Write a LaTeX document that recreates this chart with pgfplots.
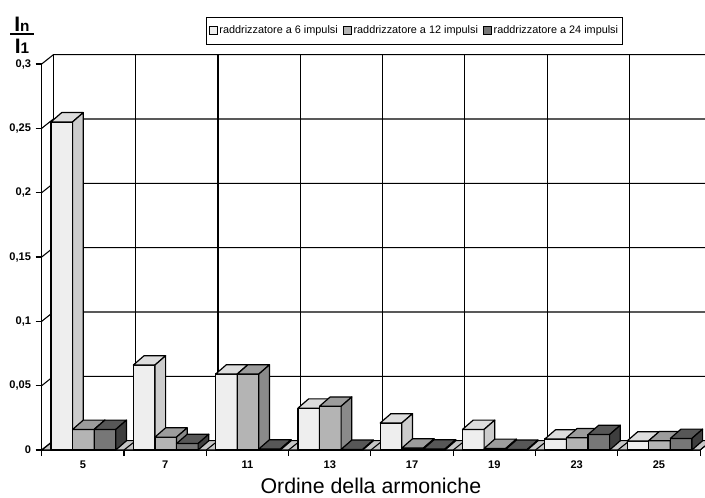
\documentclass[border=0pt]{standalone}
\usepackage{pgfplots}
\usepackage{pgfplotstable}
\pgfplotsset{compat=1.18}
\usepackage{fontspec}
\setmainfont{Liberation Sans}

% shades of the three bar series: front, top and side faces
\definecolor{wfront}{HTML}{EEEEEE}
\definecolor{wtop}{HTML}{DDDDDD}
\definecolor{wside}{HTML}{CCCCCC}
\definecolor{gfront}{HTML}{B4B4B4}
\definecolor{gtop}{HTML}{9C9C9C}
\definecolor{gside}{HTML}{8A8A8A}
\definecolor{dfront}{HTML}{777777}
\definecolor{dtop}{HTML}{575757}
\definecolor{dside}{HTML}{3E3E3E}
\definecolor{floorgray}{HTML}{C6C6C6}

% harmonic currents In/I1 for 6-, 12- and 24-pulse rectifiers
\pgfplotstableread{
ord  p6     p12    p24
5    0.255  0.016  0.016
7    0.066  0.010  0.005
11   0.059  0.059  0.0008
13   0.0325 0.034  0.0005
17   0.021  0.0015 0.0008
19   0.016  0.0012 0.0005
23   0.0085 0.0095 0.012
25   0.007  0.0072 0.009
}\harm

% bar geometry in axis units
\def\bw{0.2625}    % bar width
\def\bgap{0.113}   % space before the first bar of a group
\def\bdx{0.13}     % depth of the bars, x
\def\bdy{0.00723}  % depth of the bars, y
\def\wdx{0.142}    % depth of floor and side wall, x
\def\wdy{0.00723}  % depth of floor and side wall, y

\pgfplotsset{gridline/.style={forget plot, black, line width=0.8pt}}

% one 3-D column: front face, top face, right face
\newcommand{\drawbar}[3]{%
  \pgfmathsetmacro{\xa}{#1}%
  \pgfmathsetmacro{\xb}{#1+\bw}%
  \pgfmathsetmacro{\xc}{#1+\bdx}%
  \pgfmathsetmacro{\xd}{#1+\bw+\bdx}%
  \pgfmathsetmacro{\ya}{#2}%
  \pgfmathsetmacro{\yb}{#2+\bdy}%
  \edef\barcmd{%
    \noexpand\addplot[forget plot, draw=black, line width=0.9pt, line join=round, fill=#3front]
      coordinates {(\xa,0) (\xb,0) (\xb,\ya) (\xa,\ya)} -- cycle;
    \noexpand\addplot[forget plot, draw=black, line width=0.9pt, line join=round, fill=#3top]
      coordinates {(\xa,\ya) (\xb,\ya) (\xd,\yb) (\xc,\yb)} -- cycle;
    \noexpand\addplot[forget plot, draw=black, line width=0.9pt, line join=round, fill=#3side]
      coordinates {(\xb,0) (\xd,\bdy) (\xd,\yb) (\xb,\ya)} -- cycle;
  }%
  \barcmd
}

\begin{document}
\begin{tikzpicture}
\useasboundingbox (0,0) rectangle (528.75pt,372.75pt);
\begin{axis}[
  at={(31.275pt,35.25pt)}, anchor=south west,
  scale only axis, width=493.8pt, height=289.5pt,
  xmin=0, xmax=8, ymin=0, ymax=0.3,
  clip=false,
  axis x line=bottom, axis y line=left,
  axis line style={-, line width=0.8pt},
  tick align=outside, major tick length=4.5pt,
  tick style={black, line width=0.8pt},
  xtick={0,...,8}, x tick label as interval,
  xticklabels={5,7,11,13,17,19,23,25},
  ytick={0,0.05,0.1,0.15,0.2,0.25,0.3},
  yticklabels={0,{0,05},{0,1},{0,15},{0,2},{0,25},{0,3}},
  tick label style={font=\fontsize{8.3}{10}\selectfont\bfseries},
  xlabel={Ordine della armoniche},
  every axis x label/.style={at={(axis description cs:0.5,-0.113)}, anchor=base,
    inner sep=0pt, font=\fontsize{16}{18}\selectfont},
  ylabel={\vbox{\offinterlineskip
    \hbox to 18pt{\hss I{\fontsize{11.5}{12}\selectfont n}\hss}\kern1.6pt
    \hrule height 1.1pt\kern2.8pt
    \hbox to 18pt{\hss I{\fontsize{11.5}{12}\selectfont 1}\hss}}},
  every axis y label/.style={at={(axis description cs:-0.0299,1.0751)}, anchor=center,
    inner sep=0pt, font=\bfseries\fontsize{15.7}{16}\selectfont},
  legend columns=3,
  legend image code/.code={\draw[#1, line width=0.6pt] (0pt,-3pt) rectangle (6pt,3pt);},
  legend style={at={(axis description cs:0.2495,1.1218)}, anchor=north west,
    draw=black, line width=0.6pt, fill=white, outer sep=0pt,
    font=\fontsize{8.15}{9.6}\selectfont, inner xsep=2pt, inner ysep=4.6pt,
    nodes={inner xsep=1.5pt, inner ysep=2pt},
    /tikz/every even column/.append style={column sep=2.2pt}},
]
% floor
\addplot[forget plot, fill=floorgray, draw=black, line width=0.8pt]
  coordinates {(0,0) (8,0) (8.142,0.00723) (0.142,0.00723)} -- cycle;
% floor lines at the category boundaries and vertical lines on the back wall
\pgfplotsinvokeforeach{0,...,8}{%
  \pgfmathsetmacro{\gx}{#1+\wdx}%
  \pgfmathsetmacro{\gy}{0.3+\wdy}%
  \edef\gcmd{%
    \noexpand\addplot[gridline] coordinates {(#1,0) (\gx,\wdy)};
    \noexpand\addplot[gridline] coordinates {(\gx,\wdy) (\gx,\gy)};
  }%
  \gcmd
}
% horizontal grid lines on the side wall and the back wall
\pgfplotsinvokeforeach{0.05,0.1,0.15,0.2,0.25,0.3}{%
  \pgfmathsetmacro{\gy}{#1+\wdy}%
  \pgfmathsetmacro{\gx}{8+\wdx}%
  \edef\gcmd{%
    \noexpand\addplot[gridline] coordinates {(0,#1) (\wdx,\gy) (\gx,\gy)};
  }%
  \gcmd
}
% columns, left to right
\pgfplotsforeachungrouped \i in {0,...,7}{%
  \pgfplotstablegetelem{\i}{p6}\of\harm \let\vsix\pgfplotsretval
  \pgfplotstablegetelem{\i}{p12}\of\harm \let\vtwelve\pgfplotsretval
  \pgfplotstablegetelem{\i}{p24}\of\harm \let\vtwentyfour\pgfplotsretval
  \drawbar{\i+\bgap}{\vsix}{w}%
  \drawbar{\i+\bgap+\bw}{\vtwelve}{g}%
  \drawbar{\i+\bgap+2*\bw}{\vtwentyfour}{d}%
}
\addlegendimage{draw=black, fill=wfront}
\addlegendentry{raddrizzatore a 6 impulsi}
\addlegendimage{draw=black, fill=gfront}
\addlegendentry{raddrizzatore a 12 impulsi}
\addlegendimage{draw=black, fill=dfront}
\addlegendentry{raddrizzatore a 24 impulsi}
\end{axis}
\end{tikzpicture}
\end{document}
